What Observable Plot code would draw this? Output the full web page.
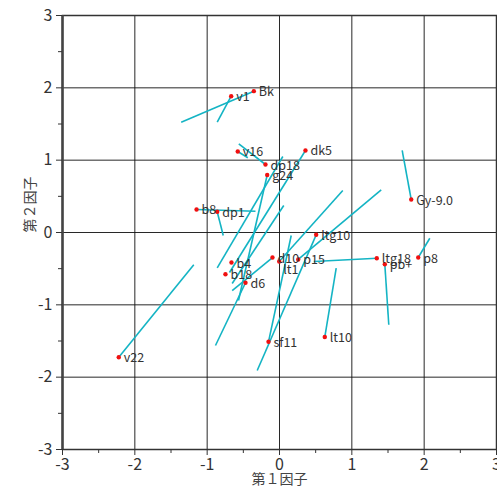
<!DOCTYPE html>
<html><head><meta charset="utf-8">
<script src="https://cdn.jsdelivr.net/npm/d3@7"></script>
<script src="https://cdn.jsdelivr.net/npm/@observablehq/plot@0.6"></script>
<style>body{margin:0;background:#fff}</style>
</head><body><div id="chart"></div>
<script>
const names = ["v1","Bk","v16","dp18","g24","dk5","Gy-9.0","b8","dp1","ltg10","d10","lt1","p15","ltg18","pb+","p8","b4","b18","d6","lt10","sf11","v22"];
const f1 = [-0.668,-0.355,-0.577,-0.194,-0.170,0.359,1.821,-1.147,-0.861,0.507,-0.097,-0.004,0.259,1.345,1.456,1.918,-0.664,-0.747,-0.470,0.626,-0.152,-2.222];
const f2 = [1.884,1.954,1.120,0.940,0.795,1.134,0.456,0.318,0.286,-0.032,-0.346,-0.401,-0.373,-0.355,-0.438,-0.346,-0.415,-0.577,-0.695,-1.445,-1.511,-1.724];
// other end of each point's segment (null = none)
const g1 = [-0.861,-1.359,-0.438,-0.563,-0.567,-0.691,1.696,-0.332,-0.778,-0.308,-0.654,0.875,1.406,0.474,1.511,2.078,null,null,-0.885,0.784,0.162,-1.185];
const g2 = [1.525,1.525,1.033,1.226,-0.940,-0.553,1.134,0.294,-0.041,-1.908,-0.802,0.581,0.590,-0.401,-1.276,-0.079,null,null,-1.562,-0.494,-0.041,-0.447];
// free segments not starting at a labelled point
const s1x = [0.046,0.059];
const s1y = [1.051,0.373];
const s2x = [-0.861,-0.654];
const s2y = [-0.488,-0.705];
const ticks = [-3,-2,-1,0,1,2,3];
const minorTicks = [-2.5,-1.5,-0.5,0.5,1.5,2.5];

const pts = names.map((n,i)=>({name:n,x:f1[i],y:f2[i],x2:g1[i],y2:g2[i]}));
const segs = pts.filter(d=>d.x2!=null).concat(s1x.map((v,i)=>({x:v,y:s1y[i],x2:s2x[i],y2:s2y[i]})));
const font = "'Noto Sans CJK JP', 'DejaVu Sans', sans-serif";
const main = pts.filter(d=>d.name!=="lt1");
const low = pts.filter(d=>d.name==="lt1");
const fmt = d => String(d);

const chart = Plot.plot({
  width: 497, height: 493,
  marginTop: 15, marginBottom: 44, marginLeft: 62, marginRight: 1,
  style: {fontFamily: font, background: "#fff"},
  x: {domain: [-3,3]},
  y: {domain: [-3,3]},
  marks: [
    Plot.gridX(ticks, {stroke: "#111", strokeOpacity: 0.9, strokeWidth: 1}),
    Plot.gridY(ticks, {stroke: "#111", strokeOpacity: 0.9, strokeWidth: 1}),
    Plot.frame({stroke: "#333", strokeWidth: 1.5}),
    Plot.ruleX([-3], {stroke: "#444", strokeWidth: 2.5}),
    Plot.link(segs, {x1:"x", y1:"y", x2:"x2", y2:"y2", stroke: "#14b4c4", strokeWidth: 1.6}),
    Plot.dot(pts, {x:"x", y:"y", r: 2.2, fill: "#f01010", stroke: null}),
    Plot.text(main, {x:"x", y:"y", text:"name", textAnchor:"start", dx: 5, dy: 1, fontSize: 12.5, fill: "#333"}),
    Plot.text(low, {x:"x", y:"y", text:"name", textAnchor:"start", dx: 4, dy: 8, fontSize: 12.5, fill: "#333"}),
    Plot.axisX(ticks, {tickSize: 6, tickPadding: 3, fontSize: 16, color: "#333", label: null, stroke: "#333", tickFormat: fmt}),
    Plot.axisX(minorTicks, {tickSize: 4, text: null, label: null, stroke: "#333"}),
    Plot.axisY(ticks, {tickSize: 6, tickPadding: 4, fontSize: 16, color: "#333", label: null, stroke: "#333", tickFormat: fmt}),
    Plot.axisY(minorTicks, {tickSize: 4, text: null, label: null, stroke: "#333"}),
    Plot.text(["第１因子"], {frameAnchor: "bottom", dy: 34, fontSize: 14, fill: "#444"}),
    Plot.text(["第２因子"], {frameAnchor: "left", dx: -32, rotate: -90, fontSize: 14, fill: "#444"})
  ]
});
document.getElementById("chart").appendChild(chart);
</script>
</body></html>
